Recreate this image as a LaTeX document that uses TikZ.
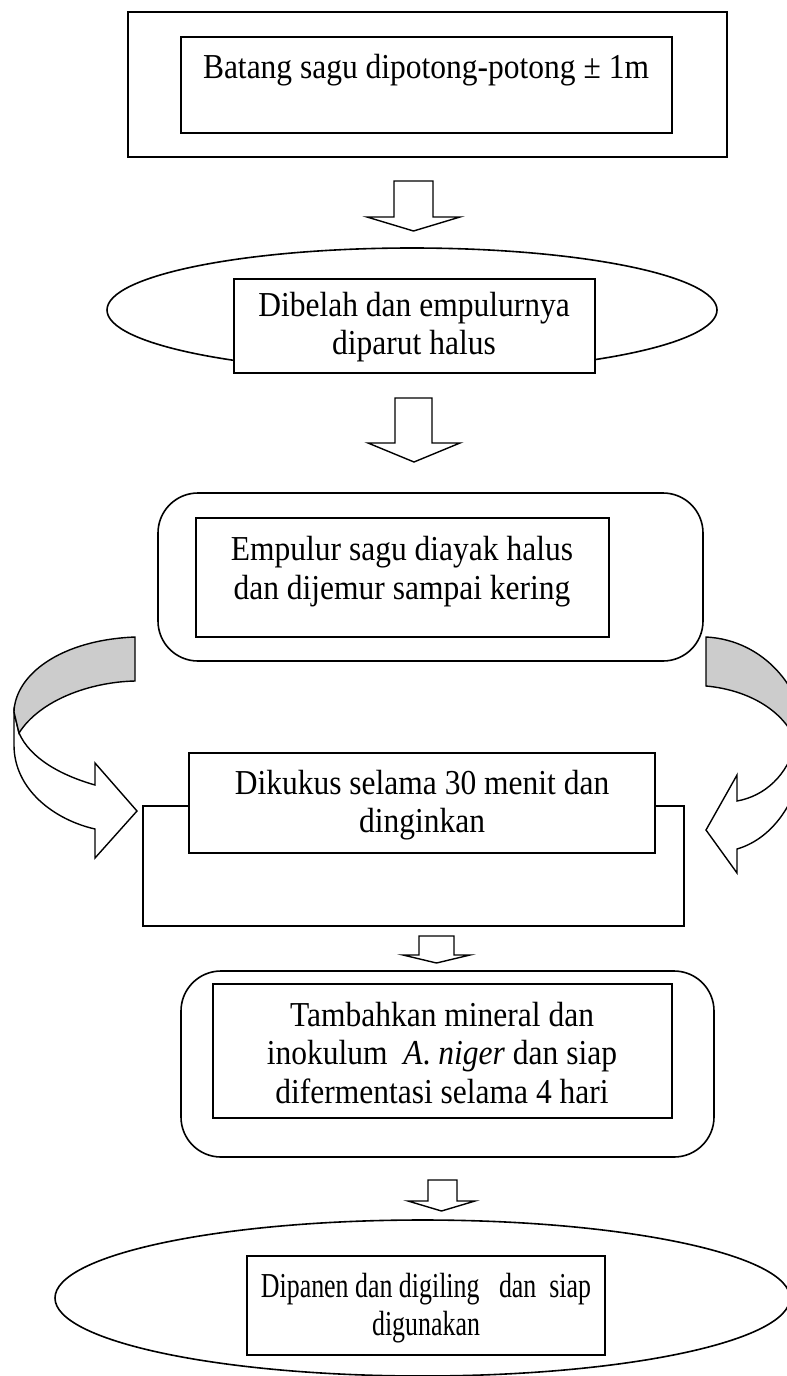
\documentclass[tikz,border=0pt]{standalone}
\usepackage{fontspec}
\setmainfont{Liberation Serif}[FakeStretch=0.9]
\newfontfamily\narrowfont{Liberation Serif}[FakeStretch=0.74]
\usetikzlibrary{shapes.geometric}
\begin{document}
\begin{tikzpicture}[x=1pt,y=-1pt,line width=1.6pt,line join=miter,
  txt/.style={align=center,font=\fontsize{35}{38.5}\selectfont,inner sep=0pt},
  ntxt/.style={align=center,font=\narrowfont\fontsize{35}{37.5}\selectfont,inner sep=0pt},
  box/.style={draw=black,fill=white,rectangle,inner sep=0pt},
  rbox/.style={draw=black,fill=white,rectangle,rounded corners=40pt,inner sep=0pt},
  ell/.style={draw=black,fill=white,ellipse,inner sep=0pt},
  barrow/.style={draw=black,fill=white,line width=1.4pt},
  band/.style={draw=black,line width=1.4pt}]
\useasboundingbox (0,0) rectangle (787,1376);

% Box 1
\node[box,minimum width=599pt,minimum height=145pt] (b1o) at (427.5,84.5) {};
\node[box,minimum width=491pt,minimum height=96pt] (b1i) at (426.5,85) {};
\node[txt] (t1) at (426,70) {Batang sagu dipotong-potong ± 1m};

% Arrow 1
\draw[barrow] (394,181)--(433,181)--(433,217)--(460,217)--(413.5,231)--(367,217)--(394,217)--cycle;

% Ellipse 1
\node[ell,minimum width=610pt,minimum height=124pt] (e1) at (412,310) {};
\node[box,minimum width=361pt,minimum height=94pt] (e1i) at (414.5,326) {};
\node[txt] (t2) at (414,327) {Dibelah dan empulurnya\\diparut halus};

% Arrow 2
\draw[barrow] (395,398)--(432,398)--(432,443)--(460,443)--(414,462)--(368,443)--(395,443)--cycle;

% Rounded box 1
\node[rbox,minimum width=545pt,minimum height=168pt] (r1) at (430.5,577) {};
\node[box,minimum width=413pt,minimum height=119pt] (r1i) at (402.5,577.5) {};
\node[txt] (t3) at (402,571.5) {Empulur sagu diayak halus\\dan dijemur sampai kering};

% Left curved arrow
\draw[band,fill=white] (14,712) -- (14,745) .. controls (14,790) and (55,820) .. (95,829)
  -- (95,858) -- (137,811) -- (95,763) -- (95,785)
  .. controls (60,775) and (30,758) .. (19,733) -- cycle;
\draw[band,fill=black!20] (135,637) .. controls (60,640) and (15,675) .. (14,712)
  -- (19,733) .. controls (40,700) and (90,682) .. (135,681) -- cycle;

% Right curved arrow
\draw[band,fill=white] (805,735) .. controls (805,795) and (775,838) .. (737,849)
  -- (737,873) -- (706,830) -- (737,775) -- (737,801)
  .. controls (765,796) and (788,775) .. (796,742) -- cycle;
\draw[band,fill=black!20] (706,637) .. controls (765,640) and (803,690) .. (805,735)
  -- (796,742) .. controls (785,712) and (750,690) .. (706,686) -- cycle;

% Middle box
\node[box,minimum width=541pt,minimum height=120pt] (m1o) at (413.5,866) {};
\node[box,minimum width=466pt,minimum height=100pt] (m1i) at (422,803) {};
\node[txt] (t4) at (422,805) {Dikukus selama 30 menit dan\\dinginkan};

% Arrow 3
\draw[barrow] (419,936)--(454,936)--(454,955)--(470,955)--(436.5,963)--(403,955)--(419,955)--cycle;

% Rounded box 2
\node[rbox,minimum width=533pt,minimum height=186pt] (r2) at (447.5,1064) {};
\node[box,minimum width=459pt,minimum height=134pt] (r2i) at (442.5,1051) {};
\node[txt] (t5) at (442,1053) {Tambahkan mineral dan\\inokulum \ \textit{A}. \textit{niger} dan siap\\difermentasi selama 4 hari};

% Arrow 4
\draw[barrow] (428,1180)--(457,1180)--(457,1201)--(475,1201)--(441.5,1211)--(408,1201)--(428,1201)--cycle;

% Ellipse 2
\node[ell,minimum width=735pt,minimum height=156pt] (e2) at (422.5,1298) {};
\node[box,minimum width=358pt,minimum height=99pt] (e2i) at (426,1305.5) {};
\node[ntxt] (t6) at (426,1308) {Dipanen dan digiling \ \ dan \ siap\\digunakan};
\end{tikzpicture}
\end{document}
